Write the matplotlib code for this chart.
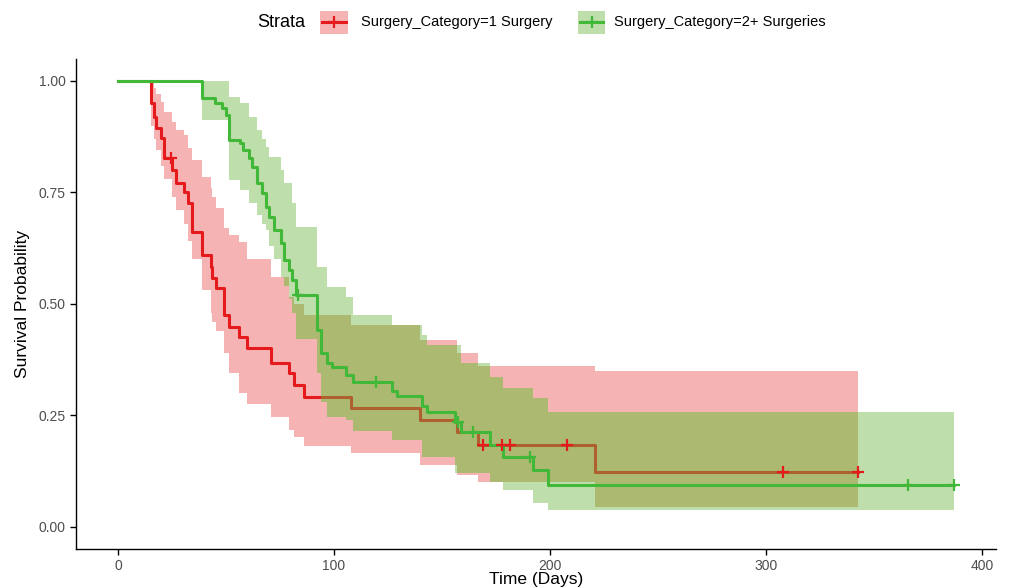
import numpy as np
import matplotlib
matplotlib.use("Agg")
import matplotlib.pyplot as plt
from matplotlib.patches import Rectangle
from matplotlib.lines import Line2D

plt.rcParams["font.family"] = ["Liberation Sans", "DejaVu Sans"]

# Kaplan-Meier steps (time in days, survival after the drop)
red_times = [15.3, 16.7, 17.6, 20.0, 21.3, 25.1, 26.9, 30.6, 32.5, 34.3, 39.0, 43.2, 43.6,
             45.5, 49.2, 51.5, 56.1, 59.9, 71.0, 79.4, 81.7, 86.3, 108.1, 139.7, 156.8,
             166.6, 220.9]
red_surv = [0.95, 0.92, 0.895, 0.872, 0.827, 0.80, 0.771, 0.751, 0.726, 0.661, 0.61, 0.583,
            0.558, 0.536, 0.475, 0.448, 0.426, 0.401, 0.368, 0.345, 0.318, 0.291, 0.265,
            0.24, 0.213, 0.184, 0.123]
red_upper = [1.0, 0.985, 0.97, 0.953, 0.93, 0.908, 0.89, 0.879, 0.85, 0.823, 0.785, 0.76,
             0.74, 0.715, 0.67, 0.655, 0.639, 0.60, 0.56, 0.516, 0.50, 0.475, 0.453, 0.419,
             0.39, 0.36, 0.35]
red_lower = [0.90, 0.87, 0.845, 0.81, 0.78, 0.74, 0.71, 0.68, 0.64, 0.60, 0.53, 0.48, 0.46,
             0.44, 0.39, 0.345, 0.30, 0.275, 0.247, 0.217, 0.20, 0.18, 0.166, 0.139, 0.115,
             0.099, 0.045]
red_censor = [24.6, 168.9, 177.7, 181.4, 207.9, 307.7, 342.5]
red_end = 342.5

green_times = [39.0, 45.0, 48.3, 50.1, 51.5, 56.6, 58.0, 60.8, 62.2, 64.5, 66.8, 68.7, 70.1,
               72.4, 75.6, 77.0, 79.4, 80.7, 82.6, 92.3, 94.2, 97.0, 99.3, 105.8, 108.6,
               126.7, 129.0, 140.6, 142.9, 155.9, 158.7, 172.2, 178.2, 192.1, 199.1]
green_surv = [0.962, 0.950, 0.939, 0.924, 0.868, 0.861, 0.845, 0.827, 0.807, 0.771, 0.749,
              0.717, 0.695, 0.666, 0.637, 0.599, 0.576, 0.554, 0.520, 0.442, 0.39, 0.368,
              0.357, 0.341, 0.325, 0.305, 0.293, 0.27, 0.258, 0.235, 0.213, 0.184, 0.157,
              0.128, 0.094]
green_upper = [1.0, 1.0, 1.0, 1.0, 0.964, 0.95, 0.95, 0.919, 0.919, 0.89, 0.87, 0.852, 0.83,
               0.83, 0.80, 0.771, 0.771, 0.726, 0.673, 0.583, 0.583, 0.538, 0.538, 0.516,
               0.475, 0.453, 0.453, 0.43, 0.408, 0.408, 0.367, 0.336, 0.31, 0.289, 0.256]
green_lower = [0.913, 0.913, 0.913, 0.913, 0.778, 0.755, 0.755, 0.726, 0.726, 0.70, 0.68,
               0.666, 0.63, 0.60, 0.56, 0.54, 0.51, 0.48, 0.42, 0.345, 0.28, 0.245, 0.245,
               0.24, 0.215, 0.195, 0.195, 0.157, 0.157, 0.121, 0.121, 0.10, 0.083, 0.054,
               0.038]
green_censor = [83.5, 119.7, 157.3, 164.3, 190.7, 365.7, 387.0]
green_end = 387.0

labels = ["Surgery_Category=1 Surgery", "Surgery_Category=2+ Surgeries"]
x_ticks = [0, 100, 200, 300, 400]
y_ticks = [0.0, 0.25, 0.5, 0.75, 1.0]

RED = "#E41A1C"
GREEN = "#41B837"
RED_BAND = "#E41A1C"
GREEN_BAND = "#6FB647"
OVERLAP_TINT = "#96DC3C"


def step_arrays(times, values, end, start_value=1.0):
    t = np.concatenate([[0.0], times, [end]])
    v = np.concatenate([[start_value], values, [values[-1]]])
    return t, v


def value_at(times, values, x):
    t = np.concatenate([[0.0], times])
    v = np.concatenate([[1.0], values])
    idx = np.searchsorted(t, x, side="right") - 1
    return v[idx]


fig = plt.figure(figsize=(10.14, 5.87), dpi=100)
ax = fig.add_axes([0.075, 0.065, 0.907, 0.835])

# red band and line
t, lo = step_arrays(red_times, red_lower, red_end)
_, hi = step_arrays(red_times, red_upper, red_end)
ax.fill_between(t, lo, hi, step="post", color=RED_BAND, alpha=0.33, linewidth=0, zorder=1)

# where the two bands overlap the picture turns olive
grid = np.unique(np.concatenate([[0.0], red_times, green_times, [red_end]]))
ov_lo = np.maximum(value_at(red_times, red_lower, grid), value_at(green_times, green_lower, grid))
ov_hi = np.minimum(value_at(red_times, red_upper, grid), value_at(green_times, green_upper, grid))
ov_hi = np.maximum(ov_hi, ov_lo)
ax.fill_between(grid, ov_lo, ov_hi, step="post", color=OVERLAP_TINT, alpha=0.25,
                linewidth=0, zorder=1.5)

t, s = step_arrays(red_times, red_surv, red_end)
ax.step(t, s, where="post", color=RED, linewidth=2.2, zorder=2)

# green band and line
t, lo = step_arrays(green_times, green_lower, green_end)
_, hi = step_arrays(green_times, green_upper, green_end)
ax.fill_between(t, lo, hi, step="post", color=GREEN_BAND, alpha=0.45, linewidth=0, zorder=3)
t, s = step_arrays(green_times, green_surv, green_end)
ax.step(t, s, where="post", color=GREEN, linewidth=2.2, zorder=4)

# censoring marks
for times, surv, censor, col in [(red_times, red_surv, red_censor, RED),
                                 (green_times, green_surv, green_censor, GREEN)]:
    cy = value_at(times, surv, np.array(censor))
    ax.plot(censor, cy, linestyle="none", marker="+", markersize=9, mew=1.6,
            color=col, zorder=10)

ax.set_xlim(-19.4, 406.4)
ax.set_ylim(-0.05, 1.05)
ax.set_xticks(x_ticks)
ax.set_yticks(y_ticks)
ax.set_yticklabels([f"{v:.2f}" for v in y_ticks])
ax.tick_params(colors="#4D4D4D", labelsize=10, length=4, width=1)
ax.tick_params(axis="both", color="black")
for side in ["top", "right"]:
    ax.spines[side].set_visible(False)
for side in ["left", "bottom"]:
    ax.spines[side].set_linewidth(1.0)

ax.set_xlabel("Time (Days)", fontsize=12.5, labelpad=-1)
ax.set_ylabel("Survival Probability", fontsize=12.5, labelpad=6)

# legend drawn by hand, ggplot style on top
fig.text(0.254, 0.962, "Strata", fontsize=13, va="center", ha="left")
key_x = [0.316, 0.570]
text_x = [0.356, 0.606]
keys = [(RED, RED_BAND, 0.33), (GREEN, GREEN_BAND, 0.45)]
for kx, tx, (col, band, alpha), lab in zip(key_x, text_x, keys, labels):
    fig.add_artist(Rectangle((kx, 0.942), 0.027, 0.04, transform=fig.transFigure,
                             facecolor=band, alpha=alpha, edgecolor="none"))
    fig.add_artist(Line2D([kx + 0.002, kx + 0.025], [0.962, 0.962], transform=fig.transFigure,
                          color=col, linewidth=2.2))
    fig.add_artist(Line2D([kx + 0.0135], [0.962], transform=fig.transFigure, marker="+",
                          markersize=9, mew=1.6, color=col, linestyle="none"))
    fig.text(tx, 0.962, lab, fontsize=10.5, va="center", ha="left")

fig.savefig("out.png", dpi=100)
